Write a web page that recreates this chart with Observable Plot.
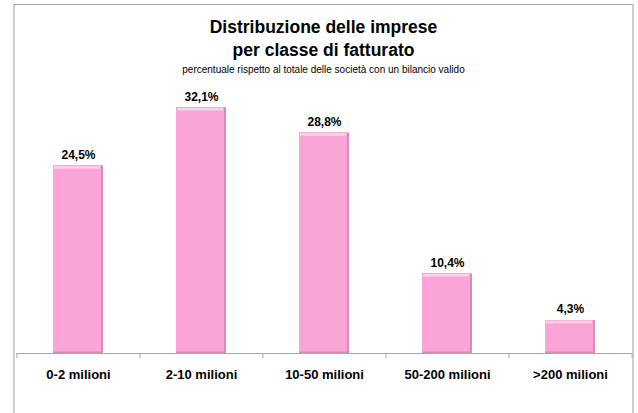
<!DOCTYPE html>
<html>
<head>
<meta charset="utf-8">
<script src="https://cdn.jsdelivr.net/npm/d3@7"></script>
<script src="https://cdn.jsdelivr.net/npm/@observablehq/plot@0.6"></script>
<style>
  html, body { margin: 0; padding: 0; background: #fff; }
  #wrap { position: relative; width: 638px; height: 413px; overflow: hidden; background: #fff; font-family: "Liberation Sans", Arial, sans-serif; }
  #frame { position: absolute; left: 13px; top: 4px; width: 617px; height: 430px; border-top: 1px solid #a6a6a6; border-left: 2px solid #cfcfcf; border-right: 2px solid #cfcfcf; }
  #title { position: absolute; left: 13px; width: 621px; top: 16px; text-align: center; font-size: 17.5px; line-height: 23px; font-weight: bold; color: #000; }
  #subtitle { position: absolute; left: 13px; width: 621px; top: 64px; text-align: center; font-size: 10px; line-height: 11px; color: #000; }
  #chart { position: absolute; left: 0; top: 0; }
</style>
</head>
<body>
<div id="wrap">
  <div id="frame"></div>
  <div id="chart"></div>
  <div id="title">Distribuzione delle imprese<br>per classe di fatturato</div>
  <div id="subtitle">percentuale rispetto al totale delle società con un bilancio valido</div>
</div>
<script>
const categories = ["0-2 milioni", "2-10 milioni", "10-50 milioni", "50-200 milioni", ">200 milioni"];
const values = [24.5, 32.1, 28.8, 10.4, 4.3];

const data = categories.map((c, i) => ({cat: c, value: values[i], label: values[i].toFixed(1).replace(".", ",") + "%"}));

const W = 638, H = 413, mL = 16, mR = 6, mT = 85, mB = 60;
const step = (W - mL - mR) / categories.length;

const chart = Plot.plot({
  width: W, height: H,
  marginLeft: mL, marginRight: mR, marginTop: mT, marginBottom: mB,
  x: {domain: categories, paddingInner: 0.594, paddingOuter: 0.297, label: null},
  y: {domain: [0, 35], axis: null},
  style: {background: "transparent", fontFamily: "Liberation Sans, Arial, sans-serif", color: "#000", overflow: "visible"},
  marks: [
    Plot.barY(data, {x: "cat", y: "value", fill: "#d98ab6"}),
    Plot.barY(data, {x: "cat", y: "value", fill: "#fba4d6", insetRight: 2, insetBottom: 1.5}),
    Plot.tickY(data, {x: "cat", y: "value", dy: 1.5, stroke: "#fdd2ea", strokeWidth: 2.5, insetLeft: 1, insetRight: 3}),
    Plot.ruleY([0], {stroke: "#a6a6a6", strokeWidth: 1}),
    Plot.ruleX(categories, {x: d => d, y1: 0, y2: 0, insetBottom: -5, dx: -step / 2, stroke: "#a6a6a6"}),
    Plot.ruleX([categories[categories.length - 1]], {x: d => d, y1: 0, y2: 0, insetBottom: -5, dx: step / 2, stroke: "#a6a6a6"}),
    Plot.text(data, {x: "cat", y: "value", text: "label", dy: -11, fontSize: 12, fontWeight: "bold", fill: "#000"}),
    Plot.axisX({tickSize: 0, tickPadding: 16, fontSize: 13, fontWeight: "bold", fill: "#000"})
  ]
});
document.getElementById("chart").appendChild(chart);
</script>
</body>
</html>
